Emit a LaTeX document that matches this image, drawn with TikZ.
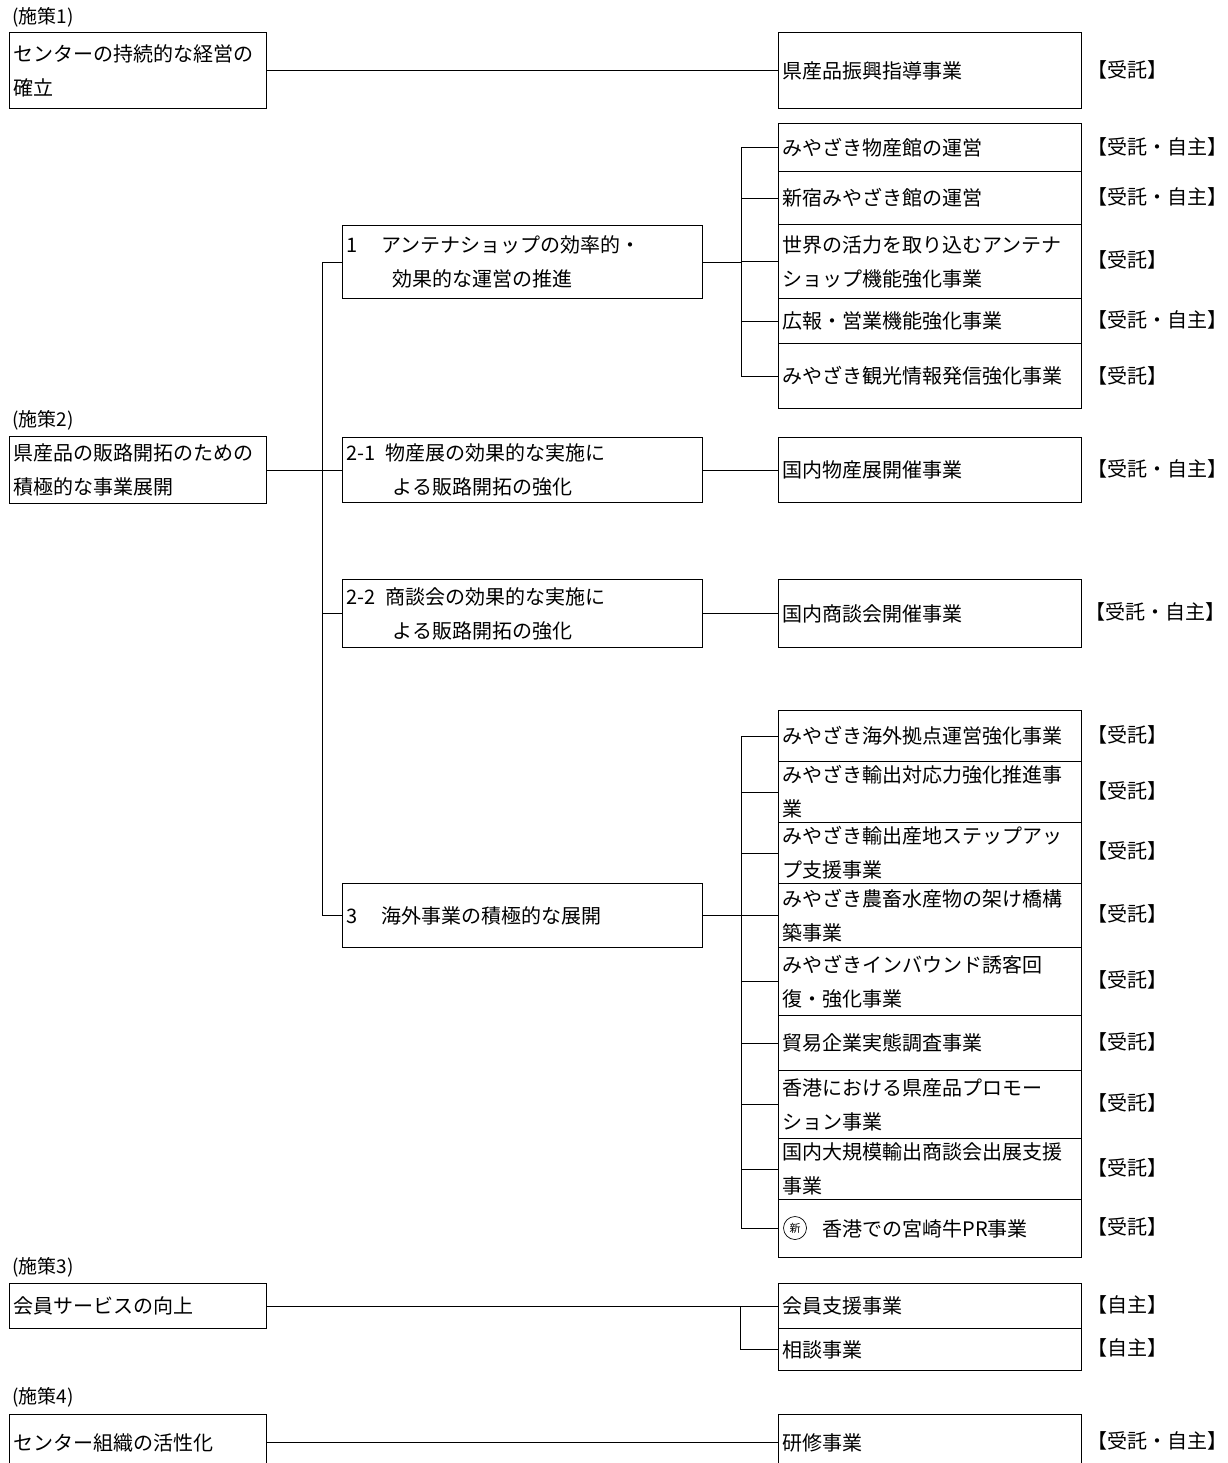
\documentclass[tikz,border=0pt]{standalone}
\usepackage{fontspec}
\setmainfont{Noto Sans CJK JP}
\usetikzlibrary{positioning, calc}

\begin{document}
\begin{tikzpicture}[x=1pt, y=-1pt,
  box/.style={draw, line width=1.2pt, anchor=north west, inner xsep=4pt,
              inner ysep=0pt, align=left, font=\fontsize{20}{34}\selectfont},
  policy/.style={box, minimum width=257pt, text width=249pt},
  measure/.style={box, minimum width=360pt, text width=352pt},
  task/.style={box, minimum width=303pt, text width=295pt},
  tag/.style={anchor=west, inner sep=0pt, font=\fontsize{20}{24}\selectfont},
  head/.style={anchor=west, inner sep=0pt, font=\fontsize{19}{22}\selectfont},
  link/.style={line width=0.8pt},
]
\useasboundingbox (0,0) rectangle (1227,1463);
\fill[white] (0,0) rectangle (1227,1463);

% policy 1
\node[head] (h1) at (12,17) {(施策1)};
\node[policy, minimum height=76pt] (p1) at (9,32) {センターの持続的な経営の\\確立};
\node[task, minimum height=76pt] (r1) at (778,32) {県産品振興指導事業};
\node[tag] (t1) at (1087,70) {【受託】};

% policy 2
\node[head] (h2) at (12,420) {(施策2)};
\node[policy, minimum height=67pt] (p2) at (9,436) {県産品の販路開拓のための\\積極的な事業展開};

\node[measure, minimum height=73pt] (ant) at (342,225)
  {1\hspace{1.2em}アンテナショップの効率的・\\\hspace{2.3em}効果的な運営の推進};
\node[measure, minimum height=65pt] (s21) at (342,437)
  {2-1\hspace{0.5em}物産展の効果的な実施に\\\hspace{2.3em}よる販路開拓の強化};
\node[measure, minimum height=68pt] (s22) at (342,579)
  {2-2\hspace{0.5em}商談会の効果的な実施に\\\hspace{2.3em}よる販路開拓の強化};
\node[measure, minimum height=64pt] (s3) at (342,883)
  {3\hspace{1.2em}海外事業の積極的な展開};

% antenna shop tasks
\node[task, minimum height=48pt] (ga) at (778,123) {みやざき物産館の運営};
\node[task, minimum height=53pt] (gb) at (778,171) {新宿みやざき館の運営};
\node[task, minimum height=74pt] (gc) at (778,224) {世界の活力を取り込むアンテナ\\ショップ機能強化事業};
\node[task, minimum height=45pt] (gd) at (778,298) {広報・営業機能強化事業};
\node[task, minimum height=65pt] (ge) at (778,343) {みやざき観光情報発信強化事業};
\node[tag] (ta) at (1087,147) {【受託・自主】};
\node[tag] (tb) at (1087,197) {【受託・自主】};
\node[tag] (tc) at (1087,260) {【受託】};
\node[tag] (td) at (1087,320) {【受託・自主】};
\node[tag] (te) at (1087,376) {【受託】};

\node[task, minimum height=65pt] (r21) at (778,437) {国内物産展開催事業};
\node[tag] (t21) at (1087,469) {【受託・自主】};
\node[task, minimum height=68pt] (r22) at (778,579) {国内商談会開催事業};
\node[tag] (t22) at (1085,612) {【受託・自主】};

% overseas tasks
\node[task, minimum height=51pt] (oa) at (778,710) {みやざき海外拠点運営強化事業};
\node[task, minimum height=61pt] (ob) at (778,761) {みやざき輸出対応力強化推進事\\業};
\node[task, minimum height=61pt] (oc) at (778,822) {みやざき輸出産地ステップアッ\\プ支援事業};
\node[task, minimum height=64pt] (od) at (778,883) {みやざき農畜水産物の架け橋構\\築事業};
\node[task, minimum height=68pt] (oe) at (778,947) {みやざきインバウンド誘客回\\復・強化事業};
\node[task, minimum height=55pt] (of) at (778,1015) {貿易企業実態調査事業};
\node[task, minimum height=68pt] (og) at (778,1070) {香港における県産品プロモー\\ション事業};
\node[task, minimum height=61pt] (oh) at (778,1138) {国内大規模輸出商談会出展支援\\事業};
\node[task, minimum height=58pt] (oi) at (778,1199) {\hspace{2em}香港での宮崎牛PR事業};
\node[circle, draw, line width=0.7pt, minimum size=23pt, inner sep=0pt,
      font=\fontsize{11}{12}\selectfont] (newmark) at (795,1228) {新};
\node[tag] (toa) at (1087,735) {【受託】};
\node[tag] (tob) at (1087,791) {【受託】};
\node[tag] (toc) at (1087,851) {【受託】};
\node[tag] (tod) at (1087,914) {【受託】};
\node[tag] (toe) at (1087,980) {【受託】};
\node[tag] (tof) at (1087,1042) {【受託】};
\node[tag] (tog) at (1087,1103) {【受託】};
\node[tag] (toh) at (1087,1168) {【受託】};
\node[tag] (toi) at (1087,1227) {【受託】};

% policy 3
\node[head] (h3) at (12,1267) {(施策3)};
\node[policy, minimum height=45pt] (p3) at (9,1283) {会員サービスの向上};
\node[task, minimum height=45pt] (m1) at (778,1283) {会員支援事業};
\node[task, minimum height=42pt] (m2) at (778,1328) {相談事業};
\node[tag] (tm1) at (1087,1305) {【自主】};
\node[tag] (tm2) at (1087,1348) {【自主】};

% policy 4
\node[head] (h4) at (12,1397) {(施策4)};
\node[policy, minimum height=56pt] (p4) at (9,1414) {センター組織の活性化};
\node[task, minimum height=56pt] (r4) at (778,1414) {研修事業};
\node[tag] (t4) at (1087,1441) {【受託・自主】};

% connectors
\draw[link] (p1.east) -- (r1.west);
\draw[link] (p2.east) -- ++(55,0) coordinate (j2);
\foreach \b in {ant,s21,s22,s3} \draw[link] (j2) |- (\b.west);
\draw[link] (ant.east) -- ++(38,0) coordinate (j1);
\foreach \b in {ga,gb,gc,gd,ge} \draw[link] (j1) |- (\b.west);
\draw[link] (s21.east) -- (r21.west);
\draw[link] (s22.east) -- (r22.west);
\draw[link] (s3.east) -- ++(38,0) coordinate (j3);
\foreach \b in {oa,ob,oc,od,oe,of,og,oh,oi} \draw[link] (j3) |- (\b.west);
\draw[link] (p3.east) -- (m1.west);
\coordinate (j4) at ($(m1.west)+(-38,0)$);
\draw[link] (j4) |- (m2.west);
\draw[link] (p4.east) -- (r4.west);
\end{tikzpicture}
\end{document}
